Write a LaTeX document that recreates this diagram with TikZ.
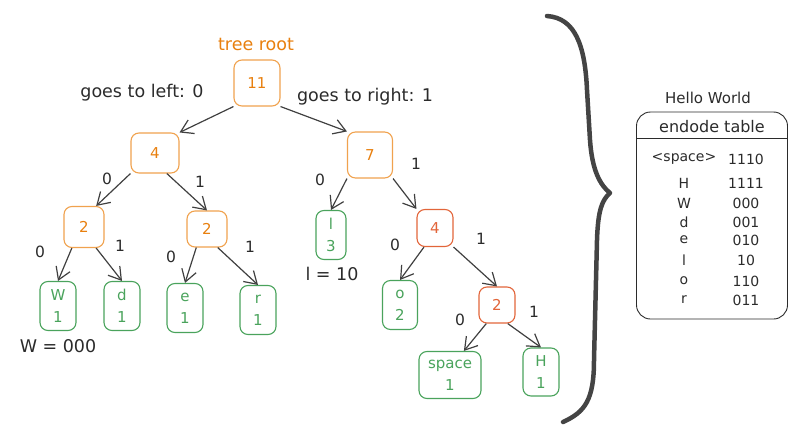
\documentclass[tikz,border=0pt]{standalone}
\usepackage{fontspec}
\setmainfont{DejaVu Sans}
\usetikzlibrary{arrows.meta}
\definecolor{orangeline}{HTML}{F0A24E}
\definecolor{orangetext}{HTML}{E8800F}
\definecolor{redline}{HTML}{E2653A}
\definecolor{greenline}{HTML}{4AA35C}
\definecolor{inkgray}{HTML}{2B2B2B}
\definecolor{bracegray}{HTML}{444444}
\begin{document}
\begin{tikzpicture}[x=1pt, y=-1pt,
    inner/.style={draw=orangeline, text=orangetext, line width=1.1pt, rounded corners=8pt,
                  minimum width=44pt, minimum height=42pt, font=\fontsize{15}{17}\selectfont},
    redinner/.style={inner, draw=redline, text=redline, minimum width=36pt, minimum height=37pt},
    leaf/.style={draw=greenline, text=greenline, line width=1.1pt, rounded corners=8pt, align=center,
                 minimum width=36pt, minimum height=49pt, inner sep=1pt,
                 font=\fontsize{15}{22}\selectfont},
    lbl/.style={text=inkgray, font=\fontsize{17.5}{19}\selectfont},
    bit/.style={text=inkgray, font=\fontsize{15.5}{17}\selectfont},
    row/.style={text=inkgray, font=\fontsize{14}{16}\selectfont},
    edge/.style={draw=inkgray!90, line width=1.2pt, -{Straight Barb[length=12pt, width=15pt]}}]

  \useasboundingbox (0,0) rectangle (811,447);

  % tree nodes
  \node[inner, minimum width=46pt, minimum height=46pt] (root) at (257,83) {11};
  \node[inner, minimum width=48pt, minimum height=40pt] (nl) at (155,153) {4};
  \node[inner, minimum width=45pt, minimum height=46pt] (nr) at (370,155) {7};
  \node[inner, minimum width=40pt, minimum height=41pt] (nll) at (84,227) {2};
  \node[inner, minimum width=40pt, minimum height=36pt] (nlr) at (207,229) {2};
  \node[redinner] (nrr) at (435,228) {4};
  \node[redinner, minimum height=36pt] (nrrr) at (497,305) {2};

  \node[leaf] (lw) at (58,306) {W\\1};
  \node[leaf] (ld) at (122,306) {d\\1};
  \node[leaf] (le) at (185,308) {e\\1};
  \node[leaf] (lr) at (258,310) {r\\1};
  \node[leaf, minimum width=30pt] (ll) at (331,235) {l\\3};
  \node[leaf, minimum width=35pt] (lo) at (400,305) {o\\2};
  \node[leaf, minimum width=62pt, minimum height=47pt] (lsp) at (450,375) {space\\1};
  \node[leaf, minimum height=48pt] (lh) at (541,372) {H\\1};

  % connectors
  \foreach \from/\to in {root.south west/nl.north east, root.south east/nr.north west,
      nl.south west/nll.60, nl.-60/nlr.north, nr.south west/ll.north, nr.south east/nrr.north west,
      nll.-120/lw.north, nll.-60/ld.north, nlr.-120/le.north, nlr.-60/lr.north,
      nrr.-120/lo.north, nrr.south east/nrrr.north, nrrr.-120/lsp.60, nrrr.-60/lh.north}
    \draw[edge] (\from) -- (\to);

  % bit labels
  \foreach \x/\y/\b/\name in {107/179/0/b1, 200/182/1/b2, 320/180/0/b3, 416/164/1/b4,
      40/252/0/b5, 120/246/1/b6, 171/257/0/b7, 250/247/1/b8,
      395/245/0/b9, 481/239/1/b10, 460/320/0/b11, 534/312/1/b12}
    \node[bit] (\name) at (\x,\y) {\b};

  \node[lbl, text=orangetext] (rootlbl) at (256,44) {tree root};
  \node[lbl] (leftlbl) at (142,93) {goes to left: 0};
  \node[lbl] (rightlbl) at (365,97) {goes to right: 1};
  \node[lbl] (wcode) at (58,346) {W = 000};
  \node[lbl] (lcode) at (332,274) {l = 10};

  % brace
  \draw[bracegray, line width=4.5pt, line cap=round, line join=round]
    (547,16) .. controls (575,18) and (585,45) .. (587,90) -- (590,140)
    .. controls (592,170) and (600,185) .. (610,193)
    .. controls (602,200) and (598,210) .. (597,240) -- (594,360)
    .. controls (594,400) and (585,412) .. (563,422);

  % encode table
  \node[row, font=\fontsize{15}{17}\selectfont] (title) at (708,98) {Hello World};
  \node[draw=inkgray, line width=0.9pt, rounded corners=14pt, minimum width=151pt,
        minimum height=207pt] (tbl) at (712,215.5) {};
  \draw[inkgray, line width=0.9pt] (tbl.west |- 0,138) -- (tbl.east |- 0,138);
  \node[row, font=\fontsize{16}{18}\selectfont] (head) at (712,127) {endode table};
  \foreach \y/\ch/\code in {159/{<space>}/1110, 183/H/1111, 203/W/000, 222/d/001,
      240/e/010, 260/l/10, 281/o/110, 300/r/011}
  {
    \node[row] at (684,\y) {\ch};
    \node[row] at (746,\y) {\code};
  }
\end{tikzpicture}
\end{document}
